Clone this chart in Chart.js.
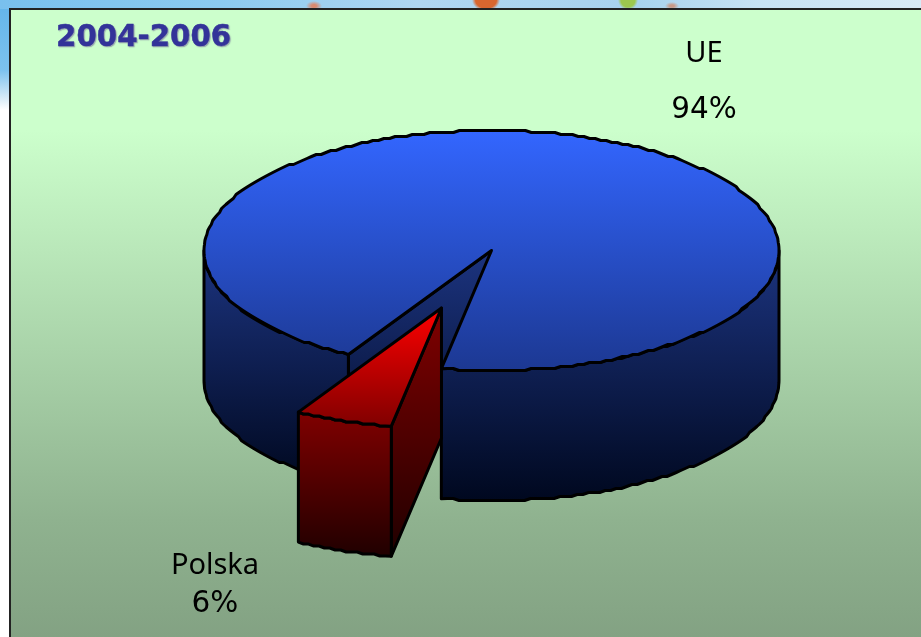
<!DOCTYPE html>
<html>
<head>
<meta charset="utf-8">
<title>2004-2006</title>
<script src="https://cdn.jsdelivr.net/npm/chart.js@4/dist/chart.umd.min.js"></script>
<style>
  html, body { margin: 0; padding: 0; background: #fff; overflow: hidden; }
  #page { position: relative; width: 921px; height: 637px; overflow: hidden;
    background:
      radial-gradient(ellipse 14px 11px at 486px 0px, #d9662f 75%, transparent 100%),
      radial-gradient(ellipse 10px 10px at 628px 0px, #9cc84e 70%, transparent 100%),
      radial-gradient(ellipse 8px 5px at 314px 6px, #d98a70 30%, transparent 100%),
      radial-gradient(ellipse 7px 4px at 672px 6px, #c99a88 30%, transparent 100%),
      linear-gradient(90deg, #79c0ee 0, #8ccaf0 220px, #b0d6f2 420px, #a8d2ee 640px, #c8e2f4 760px, #d8eaf6 921px) top / 921px 9px no-repeat,
      linear-gradient(180deg, #62b4ea 0, #7cc2ee 70px, #ddeef8 100px, #ffffff 110px) left / 10px 637px no-repeat;
  }
  #panel { position: absolute; left: 9px; top: 8px; width: 912px; height: 629px;
    box-sizing: border-box; border-left: 2px solid #222; border-top: 2px solid #222;
    background: linear-gradient(180deg, #ccffcc 0, #ccffcc 120px, #8fb28f 510px, #83a283 627px); }
  canvas { position: absolute; left: 0; top: 0; }
</style>
</head>
<body>
<div id="page">
  <div id="panel"></div>
  <canvas id="chart" width="921" height="637"></canvas>
</div>
<script>
const categories = ['UE', 'Polska'];
const shares = [94.5, 5.5];
const shareLabels = ['94%', '6%'];
const explode = [0, 0.51];
const titleText = '2004-2006';

const topColors = [['#3366ff', '#1c3892'], ['#ff0000', '#800000']];
const sideColors = [['#1c3480', '#00081f'], ['#800000', '#200000']];

const SQUASH = 120 / 287.5;
const DEPTH = 130;
const GRID = 2;

const snap = (v) => Math.round(v / GRID) * GRID;

// arc rim in screen space, y is stepped on purpose so the edge looks like the old raster
function rim(cx, cy, r, from, to) {
  const pts = [];
  const n = Math.max(2, Math.ceil((to - from) / (Math.PI / 150)));
  for (let i = 0; i <= n; i++) {
    const a = from + (to - from) * i / n;
    const dx = r * Math.cos(a);
    const dy = r * Math.sin(a) * SQUASH;
    pts.push([cx + dx, cy + (i === 0 || i === n ? dy : snap(dy))]);
  }
  return pts;
}

function fillPoly(ctx, pts, colors) {
  const ys = pts.map((p) => p[1]);
  const grad = ctx.createLinearGradient(0, Math.min(...ys), 0, Math.max(...ys));
  grad.addColorStop(0, colors[0]);
  grad.addColorStop(1, colors[1]);
  ctx.beginPath();
  pts.forEach((p, i) => (i ? ctx.lineTo(p[0], p[1]) : ctx.moveTo(p[0], p[1])));
  ctx.closePath();
  ctx.fillStyle = grad;
  ctx.fill();
  ctx.stroke();
}

const lower = (pts) => pts.map((p) => [p[0], p[1] + DEPTH]).reverse();

const pie3d = {
  id: 'pie3d',
  beforeDatasetsDraw(chart) {
    const ctx = chart.ctx;
    const arcs = chart.getDatasetMeta(0).data;
    ctx.save();
    ctx.strokeStyle = '#000';
    ctx.lineWidth = 3;
    ctx.lineJoin = 'round';

    arcs.forEach((arc, i) => {
      const { x, y, startAngle, endAngle, outerRadius: r } = arc.getProps(['x', 'y', 'startAngle', 'endAngle', 'outerRadius']);
      const mid = (startAngle + endAngle) / 2;
      const cx = x + Math.cos(mid) * r * explode[i];
      const cy = y + Math.sin(mid) * r * SQUASH * explode[i];
      const s = ((startAngle % (2 * Math.PI)) + 2 * Math.PI) % (2 * Math.PI);
      const e = s + (endAngle - startAngle);

      // cut face that can be seen from the front
      const corner = [cx + r * Math.cos(s), cy + r * Math.sin(s) * SQUASH];
      const wall = [[cx, cy], corner];
      fillPoly(ctx, wall.concat(lower(wall)), sideColors[i]);

      // outer wall, only the parts that face the viewer
      [[0, Math.PI], [2 * Math.PI, 3 * Math.PI]].forEach(([lo, hi]) => {
        const from = Math.max(s, lo);
        const to = Math.min(e, hi);
        if (to > from) {
          const pts = rim(cx, cy, r, from, to);
          fillPoly(ctx, pts.concat(lower(pts)), sideColors[i]);
        }
      });

      fillPoly(ctx, [[cx, cy]].concat(rim(cx, cy, r, s, e)), topColors[i]);
    });
    ctx.restore();
    return false;
  },
  afterDraw(chart) {
    const ctx = chart.ctx;
    ctx.save();
    ctx.textBaseline = 'alphabetic';
    ctx.textAlign = 'left';
    ctx.font = 'bold 29.3px "DejaVu Sans"';
    ctx.shadowColor = 'rgba(110,100,150,0.5)';
    ctx.shadowOffsetX = 1;
    ctx.shadowOffsetY = 1;
    ctx.shadowBlur = 1;
    ctx.fillStyle = '#333399';
    ctx.strokeStyle = '#333399';
    ctx.lineWidth = 0.5;
    ctx.strokeText(titleText, 56, 46);
    ctx.fillText(titleText, 56, 46);
    ctx.shadowColor = 'transparent';

    ctx.textAlign = 'center';
    ctx.fillStyle = '#000';
    ctx.font = '29px "Noto Sans"';
    ctx.fillText(categories[0], 704, 62);
    ctx.fillText(categories[1], 215, 574);
    ctx.font = '29.5px "DejaVu Sans"';
    ctx.fillText(shareLabels[0], 704, 118);
    ctx.fillText(shareLabels[1], 215, 612);
    ctx.restore();
  },
};

new Chart(document.getElementById('chart'), {
  type: 'pie',
  data: {
    labels: categories,
    datasets: [{ data: shares }],
  },
  options: {
    responsive: false,
    animation: false,
    radius: 287.5,
    rotation: 209.85,
    layout: { padding: { left: 62, right: 0, top: 0, bottom: 136 } },
    plugins: {
      legend: { display: false },
      title: { display: false },
      tooltip: { enabled: false },
    },
  },
  plugins: [pie3d],
});
</script>
</body>
</html>
